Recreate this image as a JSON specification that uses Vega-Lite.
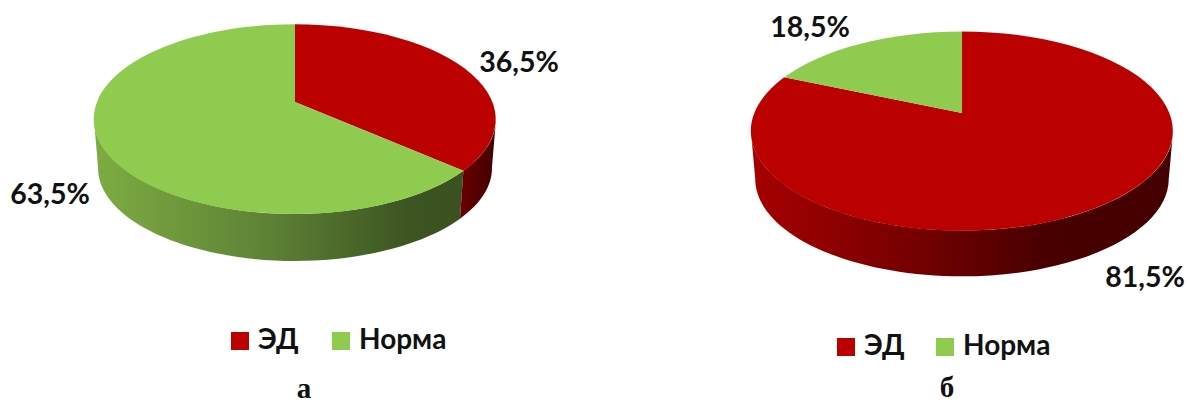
{
  "$schema": "https://vega.github.io/schema/vega-lite/v6.json",
  "autosize": {"type": "fit", "contains": "padding"},
  "width": 1189,
  "height": 403,
  "padding": 0,
  "background": "#ffffff",
  "config": {
    "view": {"stroke": null},
    "locale": {"number": {"decimal": ",", "thousands": " ", "grouping": [3], "currency": ["", ""]}}
  },
  "data": {
    "values": [
      {"panel": "а", "category": "ЭД", "value": 0.365},
      {"panel": "а", "category": "Норма", "value": 0.635},
      {"panel": "б", "category": "ЭД", "value": 0.815},
      {"panel": "б", "category": "Норма", "value": 0.185}
    ]
  },
  "transform": [
    {"stack": "value", "groupby": ["panel"], "sort": [{"field": "category", "order": "descending"}], "as": ["v0", "v1"]}
  ],
  "encoding": {
    "x": {"field": "panel", "type": "nominal", "axis": null, "scale": {"type": "point", "domain": ["а", "б"], "range": [295, 962], "padding": 0}},
    "y": {"field": "panel", "type": "nominal", "axis": null, "scale": {"type": "point", "domain": ["а", "б"], "range": [102, 113], "padding": 0}}
  },
  "layer": [
    {
      "transform": [{"filter": "datum.panel == 'а' && datum.category == 'Норма'"}],
      "mark": {
        "type": "point", "filled": true, "opacity": 1, "size": 161604,
        "color": {"gradient": "linear", "x1": 0, "y1": 0, "x2": 1, "y2": 0, "stops": [
          {"offset": 0, "color": "#7dac42"}, {"offset": 0.45, "color": "#5f8436"}, {"offset": 0.85, "color": "#3d5521"}, {"offset": 1, "color": "#3a5120"}
        ]},
        "shape": {"expr": "'M'+round(9840*sin(2*PI*max(datum.v0,.2788))/(1+.18*cos(2*PI*max(datum.v0,.2788))))/1e4+','+round(-4560*cos(2*PI*max(datum.v0,.2788))/(1+.18*cos(2*PI*max(datum.v0,.2788))))/1e4+'A1,0.472 0 0 1 '+round(9840*sin(2*PI*min(datum.v1,.7212))/(1+.18*cos(2*PI*min(datum.v1,.7212))))/1e4+','+round(-4560*cos(2*PI*min(datum.v1,.7212))/(1+.18*cos(2*PI*min(datum.v1,.7212))))/1e4+'L'+round(9640*sin(2*PI*min(datum.v1,.7212))/(1+.18*cos(2*PI*min(datum.v1,.7212))))/1e4+','+round(-4560*cos(2*PI*min(datum.v1,.7212))/(1+.18*cos(2*PI*min(datum.v1,.7212)))+2390)/1e4+'A0.98,0.462 0 0 0 '+round(9640*sin(2*PI*max(datum.v0,.2788))/(1+.18*cos(2*PI*max(datum.v0,.2788))))/1e4+','+round(-4560*cos(2*PI*max(datum.v0,.2788))/(1+.18*cos(2*PI*max(datum.v0,.2788)))+2390)/1e4+'Z'"}
      }
    },
    {
      "transform": [{"filter": "datum.panel == 'а' && datum.category == 'ЭД'"}],
      "mark": {
        "type": "point", "filled": true, "opacity": 1, "size": 161604,
        "color": {"gradient": "linear", "x1": 0, "y1": 0, "x2": 1, "y2": 0, "stops": [
          {"offset": 0, "color": "#6a0000"}, {"offset": 1, "color": "#420000"}
        ]},
        "shape": {"expr": "'M'+round(9840*sin(2*PI*max(datum.v0,.2788))/(1+.18*cos(2*PI*max(datum.v0,.2788))))/1e4+','+round(-4560*cos(2*PI*max(datum.v0,.2788))/(1+.18*cos(2*PI*max(datum.v0,.2788))))/1e4+'A1,0.472 0 0 1 '+round(9840*sin(2*PI*min(datum.v1,.7212))/(1+.18*cos(2*PI*min(datum.v1,.7212))))/1e4+','+round(-4560*cos(2*PI*min(datum.v1,.7212))/(1+.18*cos(2*PI*min(datum.v1,.7212))))/1e4+'L'+round(9640*sin(2*PI*min(datum.v1,.7212))/(1+.18*cos(2*PI*min(datum.v1,.7212))))/1e4+','+round(-4560*cos(2*PI*min(datum.v1,.7212))/(1+.18*cos(2*PI*min(datum.v1,.7212)))+2390)/1e4+'A0.98,0.462 0 0 0 '+round(9640*sin(2*PI*max(datum.v0,.2788))/(1+.18*cos(2*PI*max(datum.v0,.2788))))/1e4+','+round(-4560*cos(2*PI*max(datum.v0,.2788))/(1+.18*cos(2*PI*max(datum.v0,.2788)))+2390)/1e4+'Z'"}
      }
    },
    {
      "transform": [{"filter": "datum.panel == 'б' && datum.category == 'ЭД'"}],
      "mark": {
        "type": "point", "filled": true, "opacity": 1, "size": 178084,
        "color": {"gradient": "linear", "x1": 0, "y1": 0, "x2": 1, "y2": 0, "stops": [
          {"offset": 0, "color": "#a60000"}, {"offset": 0.35, "color": "#7a0000"}, {"offset": 0.7, "color": "#480000"}, {"offset": 1, "color": "#440000"}
        ]},
        "shape": {"expr": "'M'+round(9840*sin(2*PI*max(datum.v0,.2788))/(1+.18*cos(2*PI*max(datum.v0,.2788))))/1e4+','+round(-4560*cos(2*PI*max(datum.v0,.2788))/(1+.18*cos(2*PI*max(datum.v0,.2788))))/1e4+'A1,0.472 0 0 1 '+round(9840*sin(2*PI*min(datum.v1,.7212))/(1+.18*cos(2*PI*min(datum.v1,.7212))))/1e4+','+round(-4560*cos(2*PI*min(datum.v1,.7212))/(1+.18*cos(2*PI*min(datum.v1,.7212))))/1e4+'L'+round(9640*sin(2*PI*min(datum.v1,.7212))/(1+.18*cos(2*PI*min(datum.v1,.7212))))/1e4+','+round(-4560*cos(2*PI*min(datum.v1,.7212))/(1+.18*cos(2*PI*min(datum.v1,.7212)))+2270)/1e4+'A0.98,0.462 0 0 0 '+round(9640*sin(2*PI*max(datum.v0,.2788))/(1+.18*cos(2*PI*max(datum.v0,.2788))))/1e4+','+round(-4560*cos(2*PI*max(datum.v0,.2788))/(1+.18*cos(2*PI*max(datum.v0,.2788)))+2270)/1e4+'Z'"}
      }
    },
    {
      "transform": [{"filter": "datum.panel == 'а'"}],
      "mark": {
        "type": "point", "filled": true, "opacity": 1, "size": 161604,
        "shape": {"expr": "'M0,0L'+round(9840*sin(2*PI*datum.v0)/(1+.18*cos(2*PI*datum.v0)))/1e4+','+round(-4560*cos(2*PI*datum.v0)/(1+.18*cos(2*PI*datum.v0)))/1e4+'A1,0.472 0 '+(datum.v1-datum.v0>.5?1:0)+' 1 '+round(9840*sin(2*PI*datum.v1)/(1+.18*cos(2*PI*datum.v1)))/1e4+','+round(-4560*cos(2*PI*datum.v1)/(1+.18*cos(2*PI*datum.v1)))/1e4+'Z'"}
      },
      "encoding": {
        "color": {
          "field": "category", "type": "nominal",
          "scale": {"domain": ["ЭД", "Норма"], "range": ["#bb0000", "#8ecb4e"]},
          "legend": {"title": null, "orient": "none", "legendX": 226, "legendY": 326, "direction": "horizontal", "columns": 2, "columnPadding": 28, "symbolType": "square", "symbolSize": 324, "symbolOpacity": 1, "symbolStrokeWidth": 0, "labelFont": "Lato", "labelFontWeight": "bold", "labelFontSize": 28, "labelColor": "#111111", "labelOffset": 4, "labelLimit": 200, "clipHeight": 30}
        }
      }
    },
    {
      "transform": [{"filter": "datum.panel == 'б'"}],
      "mark": {
        "type": "point", "filled": true, "opacity": 1, "size": 178084,
        "shape": {"expr": "'M0,0L'+round(9840*sin(2*PI*datum.v0)/(1+.18*cos(2*PI*datum.v0)))/1e4+','+round(-4560*cos(2*PI*datum.v0)/(1+.18*cos(2*PI*datum.v0)))/1e4+'A1,0.472 0 '+(datum.v1-datum.v0>.5?1:0)+' 1 '+round(9840*sin(2*PI*datum.v1)/(1+.18*cos(2*PI*datum.v1)))/1e4+','+round(-4560*cos(2*PI*datum.v1)/(1+.18*cos(2*PI*datum.v1)))/1e4+'Z'"}
      },
      "encoding": {
        "color": {
          "field": "category", "type": "nominal",
          "scale": {"domain": ["ЭД", "Норма"], "range": ["#bb0000", "#8ecb4e"]},
          "legend": {"title": null, "orient": "none", "legendX": 832, "legendY": 332, "direction": "horizontal", "columns": 2, "columnPadding": 26, "symbolType": "square", "symbolSize": 324, "symbolOpacity": 1, "symbolStrokeWidth": 0, "labelFont": "Lato", "labelFontWeight": "bold", "labelFontSize": 28, "labelColor": "#111111", "labelOffset": 4, "labelLimit": 200, "clipHeight": 30}
        }
      }
    },
    {
      "mark": {
        "type": "text", "font": "Lato", "fontWeight": "bold", "fontSize": 28.5, "color": "#111111", "align": "center", "baseline": "middle",
        "dx": {"expr": "datum.panel == 'а' ? (datum.category == 'ЭД' ? 224 : -245) : (datum.category == 'ЭД' ? 183 : -152)"},
        "dy": {"expr": "datum.panel == 'а' ? (datum.category == 'ЭД' ? -39 : 93) : (datum.category == 'ЭД' ? 165 : -85)"}
      },
      "encoding": {
        "text": {"field": "value", "type": "quantitative", "format": ".1%"}
      }
    },
    {
      "transform": [{"filter": "datum.category == 'ЭД'"}],
      "mark": {
        "type": "text", "font": "Liberation Serif", "fontWeight": "bold", "fontSize": 29, "color": "#111111", "align": "center", "baseline": "middle",
        "dx": {"expr": "datum.panel == 'а' ? 9 : -15"},
        "dy": {"expr": "datum.panel == 'а' ? 287 : 275"}
      },
      "encoding": {
        "text": {"field": "panel", "type": "nominal"}
      }
    }
  ],
  "resolve": {"scale": {"color": "independent"}}
}
